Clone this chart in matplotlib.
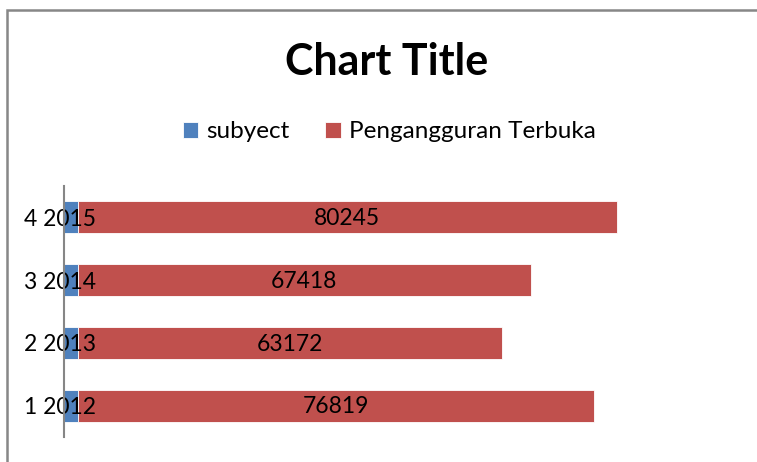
import matplotlib.pyplot as plt
import matplotlib.patches as mpatches
import numpy as np

categories = ['1 2012', '2 2013', '3 2014', '4 2015']
subyect = [2012, 2013, 2014, 2015]
terbuka = [76819, 63172, 67418, 80245]

plt.rcParams['font.family'] = ['Lato', 'DejaVu Sans']

W, H = 757, 462
fig = plt.figure(figsize=(W / 100, H / 100), dpi=100)

# chart area border (cropped on right/bottom)
fig.patches.append(mpatches.Rectangle((7 / W, -0.1), 1.2, 1 - 10 / H + 0.1,
                                      transform=fig.transFigure, fill=False,
                                      edgecolor='#878787', linewidth=1.8))

ax = fig.add_axes([64 / W, 1 - 437 / H, (736 - 64) / W, (437 - 186) / H])
y = np.arange(len(categories))
ax.barh(y, subyect, height=0.51, color='#4F81BD', edgecolor='white', linewidth=0.6,
        label='subyect')
bars = ax.barh(y, terbuka, left=subyect, height=0.51, color='#C0504D',
               edgecolor='white', linewidth=0.6, label='Pengangguran Terbuka')
for b, v in zip(bars, terbuka):
    ax.text(b.get_x() + b.get_width() / 2, b.get_y() + b.get_height() / 2 - 0.02, str(v),
            ha='center', va='center', fontsize=16.5, color='black')

ax.set_xlim(0, 100000)
ax.set_ylim(-0.5, len(categories) - 0.5)
ax.set_yticks(y)
ax.set_yticklabels(categories, fontsize=16.5)
ax.tick_params(axis='y', length=0, pad=-23)
ax.set_xticks([])
for s in ['top', 'right', 'bottom']:
    ax.spines[s].set_visible(False)
ax.spines['left'].set_color('#868686')
ax.spines['left'].set_linewidth(1.5)

fig.text(387 / W, 1 - 62 / H, 'Chart Title', ha='center', va='center',
         fontsize=31, fontweight='bold')
fig.legend(loc='center', bbox_to_anchor=(389 / W, 1 - 132 / H), ncol=2,
           frameon=False, fontsize=17.5, handlelength=0.65, handleheight=0.65,
           handletextpad=0.3, columnspacing=1.5)

fig.savefig('out.png', dpi=100)
